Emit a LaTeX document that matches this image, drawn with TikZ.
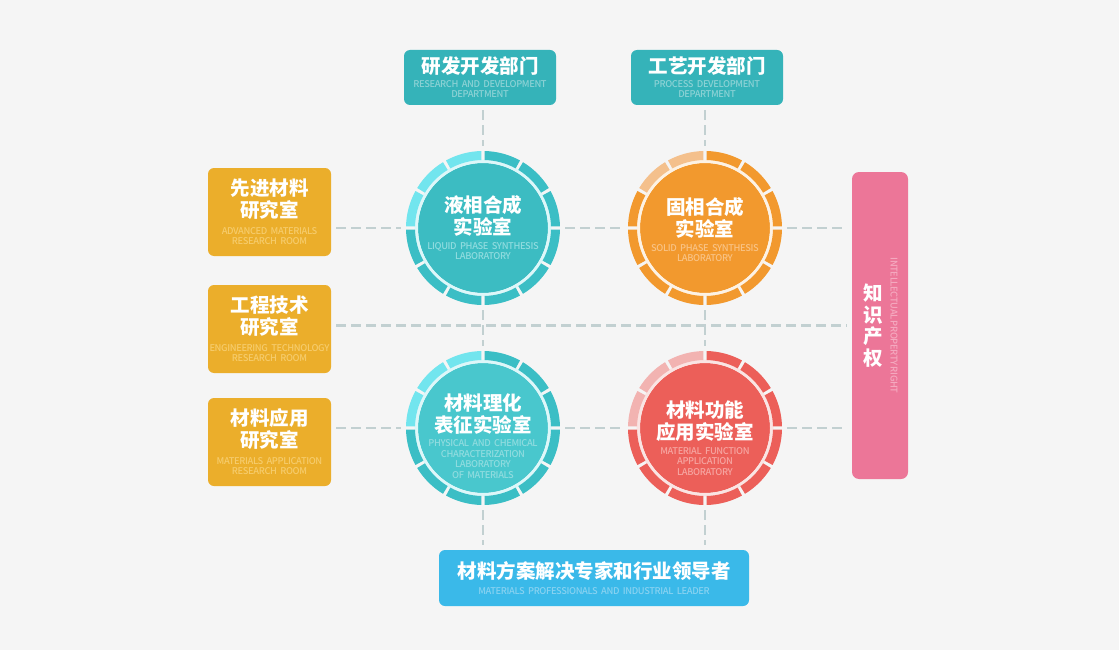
\documentclass[tikz,border=0pt]{standalone}
\usepackage{fontspec}
\setmainfont{Noto Sans CJK SC}
\newfontfamily\subfont{Noto Sans CJK SC Medium}[LetterSpace=-4, WordSpace=0.7]
\usetikzlibrary{calc}
\setlength{\parindent}{0pt}
\definecolor{bgc}{HTML}{F5F5F5}
\definecolor{linkc}{HTML}{C2D0D1}
\definecolor{deptteal}{HTML}{35B3B9}
\definecolor{deptsub}{HTML}{8CD2D5}
\definecolor{gold}{HTML}{EBAE2B}
\definecolor{goldsub}{HTML}{F6CC6C}
\definecolor{pink}{HTML}{EC7698}
\definecolor{pinksub}{HTML}{F5AAC0}
\definecolor{sky}{HTML}{3AB9E9}
\definecolor{skysub}{HTML}{88D2F1}
\definecolor{tealdisc}{HTML}{3CBCC2}
\definecolor{tealdisc2}{HTML}{49C7CD}
\definecolor{tealring}{HTML}{3BBEC5}
\definecolor{teallight}{HTML}{72E5EE}
\definecolor{tealpale}{HTML}{DDF7F9}
\definecolor{tealsub}{HTML}{90DCDF}
\definecolor{orgdisc}{HTML}{F2992E}
\definecolor{orglight}{HTML}{F4C08C}
\definecolor{orgpale}{HTML}{FDF2E4}
\definecolor{orgsub}{HTML}{F9C385}
\definecolor{reddisc}{HTML}{EC5F59}
\definecolor{redlight}{HTML}{F2B3B1}
\definecolor{redpale}{HTML}{FAE4E3}
\definecolor{redsub}{HTML}{F6A5A1}
\newcommand{\zhtitle}[1]{{\fontsize{19.5}{22}\selectfont\bfseries #1\par}}
\newcommand{\ensub}[3][4.5pt]{\vskip#1{\subfont\fontsize{9.3}{10.5}\selectfont\leavevmode\color{#2}#3\par}}

\begin{document}
\begin{tikzpicture}[x=1pt,y=-1pt,
	deptbox/.style={rectangle, rounded corners=6pt, fill=deptteal, text=white, minimum width=152, minimum height=55, text width=150, align=center, inner sep=0},
	roombox/.style={rectangle, rounded corners=6pt, fill=gold, text=white, minimum width=123, minimum height=88, text width=123, align=center, inner sep=0},
	iprbar/.style={rectangle, rounded corners=7pt, fill=pink, minimum width=56, minimum height=307, inner sep=0},
	leadbox/.style={rectangle, rounded corners=6pt, fill=sky, text=white, minimum width=310, minimum height=56, text width=300, align=center, inner sep=0},
	labdisc/.style={circle, minimum size=130, inner sep=0, outer sep=12},
	labtext/.style={text width=130, align=center, text=white, inner sep=0},
	link/.style={draw=linkc, line width=2.6pt, dash pattern=on 10pt off 5pt, shorten >=5pt, shorten <=5pt}]
	\fill[bgc] (0,0) rectangle (1119,650);
	\useasboundingbox (0,0) rectangle (1119,650);

	\node[deptbox] (rd) at (480,77.5) {\zhtitle{研发开发部门}\ensub[3pt]{deptsub}{RESEARCH AND DEVELOPMENT\\DEPARTMENT}};
	\node[deptbox] (pd) at (707,77.5) {\zhtitle{工艺开发部门}\ensub[3pt]{deptsub}{PROCESS DEVELOPMENT\\DEPARTMENT}};

	\node[roombox] (adv) at (269.5,212) {\zhtitle{先进材料\\研究室}\ensub[6pt]{goldsub}{ADVANCED MATERIALS\\RESEARCH ROOM}};
	\node[roombox] (eng) at (269.5,329) {\zhtitle{工程技术\\研究室}\ensub[6pt]{goldsub}{ENGINEERING TECHNOLOGY\\RESEARCH ROOM}};
	\node[roombox] (app) at (269.5,442) {\zhtitle{材料应用\\研究室}\ensub[6pt]{goldsub}{MATERIALS APPLICATION\\RESEARCH ROOM}};

	\node[iprbar] (ipr) at (880,325.5) {};
	\node[font=\fontsize{19.5}{21.5}\selectfont\bfseries, text=white, align=center, inner sep=0] (iprzh) at ([xshift=-7pt]ipr.center) {知\\识\\产\\权};
	\node[rotate=-90, font=\subfont\fontsize{9.3}{10}\selectfont, text=pinksub, inner sep=0] (ipren) at ([xshift=14pt]ipr.center) {INTELLECTUAL PROPERTY RIGHT};

	\node[leadbox] (lead) at (594,578) {\zhtitle{材料方案解决专家和行业领导者}\ensub[5pt]{skysub}{MATERIALS PROFESSIONALS AND INDUSTRIAL LEADER}};

	\node[labdisc, fill=tealdisc] (liquid) at (483,228) {};
	\node[labdisc, fill=orgdisc] (solid) at (705,228) {};
	\node[labdisc, fill=tealdisc2] (phys) at (483,428) {};
	\node[labdisc, fill=reddisc] (func) at (705,428) {};

	\foreach \lab/\dk/\ltc/\pale/\n in {liquid/tealring/teallight/tealpale/3, solid/orgdisc/orglight/orgpale/2, phys/tealring/teallight/tealpale/3, func/reddisc/redlight/redpale/3}{
		\fill[\pale, even odd rule] (\lab.center) circle[radius=68.5] (\lab.center) circle[radius=65];
		\foreach \k in {0,...,11}{
			\pgfmathtruncatemacro\islt{and(\k>2,\k<3+\n)}
			\ifnum\islt=1 \def\segc{\ltc}\else\def\segc{\dk}\fi
			\fill[\segc] ($(\lab.center)+(-30*\k-1.3:77)$) arc[start angle=-30*\k-1.3, end angle=-30*\k-28.7, radius=77]
				-- ($(\lab.center)+(-30*\k-28.7:68)$) arc[start angle=-30*\k-28.7, end angle=-30*\k-1.3, radius=68] -- cycle;
		}
	}

	\node[labtext] (liquidtxt) at (liquid.center) {\zhtitle{液相合成\\实验室}\ensub[4pt]{tealsub}{LIQUID PHASE SYNTHESIS\\LABORATORY}};
	\node[labtext] (solidtxt) at ([yshift=-2pt]solid.center) {\zhtitle{固相合成\\实验室}\ensub[4pt]{orgsub}{SOLID PHASE SYNTHESIS\\LABORATORY}};
	\node[labtext] (phystxt) at ([yshift=-8pt]phys.center) {\zhtitle{材料理化\\表征实验室}\ensub[4pt]{tealsub}{PHYSICAL AND CHEMICAL\\CHARACTERIZATION\\LABORATORY\\OF MATERIALS}};
	\node[labtext] (functxt) at ([yshift=-10pt]func.center) {\zhtitle{材料功能\\应用实验室}\ensub[4pt]{redsub}{MATERIAL FUNCTION\\APPLICATION\\LABORATORY}};

	\draw[link] (rd.south -| liquid) -- (liquid);
	\draw[link] (pd.south -| solid) -- (solid);
	\draw[link] (adv.east |- liquid) -- (liquid);
	\draw[link] (liquid) -- (solid);
	\draw[link] (solid) -- (solid -| ipr.west);
	\draw[link] (eng.east |- ipr.west) -- (ipr.west);
	\draw[link] (liquid) -- (phys);
	\draw[link] (solid) -- (func);
	\draw[link] (app.east |- phys) -- (phys);
	\draw[link] (phys) -- (func);
	\draw[link] (func) -- (func -| ipr.west);
	\draw[link] (phys) -- (phys |- lead.north);
	\draw[link] (func) -- (func |- lead.north);
\end{tikzpicture}
\end{document}
